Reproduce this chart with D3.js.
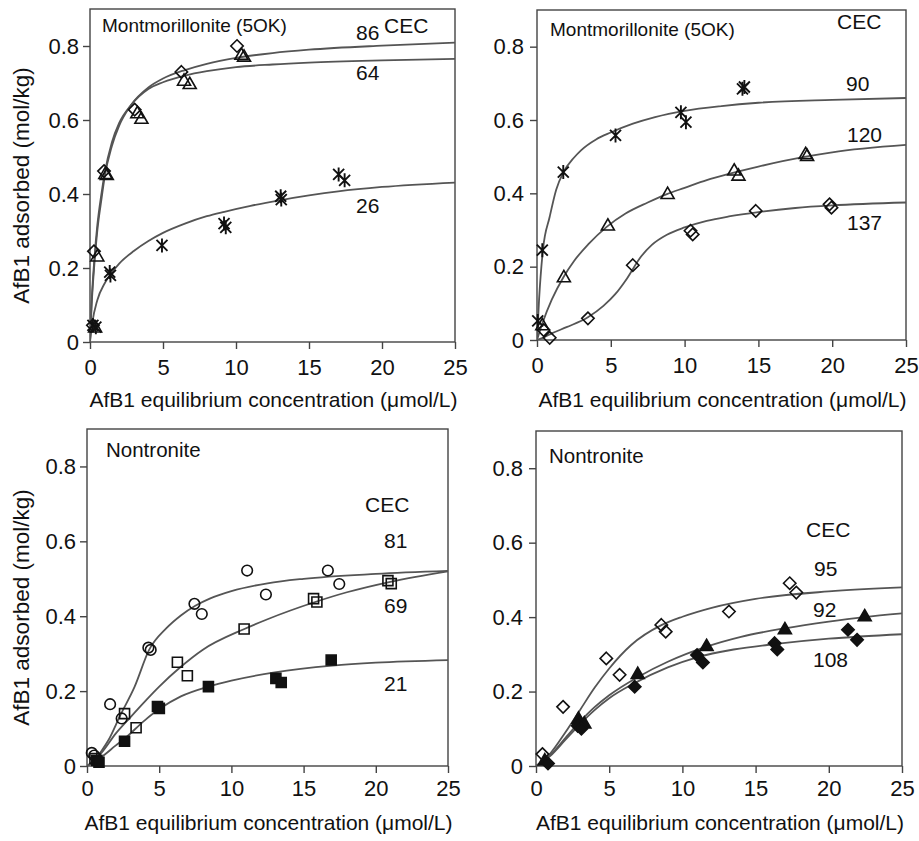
<!DOCTYPE html>
<html>
<head>
<meta charset="utf-8">
<script src="https://cdn.jsdelivr.net/npm/d3@7"></script>
<style>
  body { margin: 0; background: #fff; }
  svg { display: block; font-family: "Liberation Sans", Arial, sans-serif; }
</style>
</head>
<body>
<svg id="chart" width="919" height="841"></svg>
<script>
const xTicks = [0, 5, 10, 15, 20, 25];
const yTicks = [0, 0.2, 0.4, 0.6, 0.8];
const xTitle = "AfB1 equilibrium concentration (\u03bcmol/L)";
const yTitle = "AfB1 adsorbed (mol/kg)";
const panelTitles = ["Montmorillonite (5OK)", "Montmorillonite (5OK)", "Nontronite", "Nontronite"];
const cecLabel = "CEC";

// top left: montmorillonite, CEC 86 / 64 / 26
const p1Cec86Pts = [[0.2, 0.045], [0.27, 0.245], [0.96, 0.462], [3.06, 0.628], [6.26, 0.73], [10.07, 0.80]];
const p1Cec64Pts = [[0.35, 0.04], [0.5, 0.232], [1.05, 0.455], [1.15, 0.452], [3.24, 0.619], [3.52, 0.604],
  [6.44, 0.707], [6.83, 0.698], [10.37, 0.777], [10.55, 0.772]];
const p1Cec26Pts = [[0.2, 0.045], [0.4, 0.04], [1.35, 0.189], [1.4, 0.18], [4.93, 0.261], [9.18, 0.32], [9.3, 0.31],
  [13.06, 0.394], [13.1, 0.385], [17.03, 0.453], [17.44, 0.437]];
const p1Cec86Fit = [[0, 0], [0.1, 0.09], [0.3, 0.21], [0.5, 0.3], [0.8, 0.39], [1, 0.445], [1.5, 0.53], [2, 0.585],
  [2.8, 0.64], [4, 0.688], [5, 0.712], [6.5, 0.735], [8, 0.752], [10, 0.768], [12.5, 0.781], [15, 0.79], [20, 0.801], [25, 0.809]];
const p1Cec64Fit = [[0, 0], [0.1, 0.1], [0.3, 0.225], [0.5, 0.315], [0.8, 0.405], [1, 0.455], [1.5, 0.54], [2, 0.592],
  [2.8, 0.64], [4, 0.684], [5, 0.702], [6.5, 0.72], [8, 0.732], [10, 0.743], [12.5, 0.75], [15, 0.755], [20, 0.761], [25, 0.765]];
const p1Cec26Fit = [[0, 0], [0.15, 0.05], [0.5, 0.113], [1, 0.158], [1.35, 0.18], [2, 0.212], [3, 0.246], [4, 0.273],
  [5, 0.295], [6.5, 0.32], [8, 0.34], [9.2, 0.352], [11, 0.368], [13, 0.383], [15, 0.396], [17, 0.407], [20, 0.419], [25, 0.431]];

// top right: montmorillonite, CEC 90 / 120 / 137
const p2Cec90Pts = [[0.05, 0.052], [0.36, 0.245], [1.78, 0.458], [5.32, 0.558], [9.75, 0.621], [10.09, 0.594],
  [13.92, 0.685], [14.05, 0.69]];
const p2Cec120Pts = [[0.36, 0.041], [1.82, 0.172], [4.8, 0.313], [8.85, 0.399], [13.36, 0.463], [13.65, 0.449],
  [18.2, 0.508], [18.3, 0.503]];
const p2Cec137Pts = [[0.45, 0.027], [0.86, 0.006], [3.45, 0.059], [6.49, 0.204], [10.4, 0.298], [10.55, 0.288],
  [14.82, 0.352], [19.82, 0.37], [19.95, 0.361]];
const p2Cec90Fit = [[0, 0], [0.14, 0.11], [0.4, 0.245], [0.86, 0.336], [1.3, 0.41], [1.8, 0.458], [2.5, 0.497], [3, 0.518],
  [4, 0.547], [5, 0.566], [6.5, 0.59], [8, 0.608], [10, 0.625], [12.5, 0.638], [15, 0.647], [20, 0.655], [25, 0.66]];
const p2Cec120Fit = [[0, 0], [0.36, 0.045], [1, 0.11], [1.8, 0.172], [2.5, 0.215], [3.5, 0.262], [4.7, 0.308], [6, 0.345],
  [7.5, 0.375], [8.8, 0.398], [10, 0.415], [11.5, 0.436], [13, 0.453], [15, 0.473], [18.2, 0.5], [20, 0.512], [25, 0.532]];
const p2Cec137Fit = [[0, 0], [0.5, 0.008], [1, 0.018], [2, 0.035], [3.45, 0.062], [4.5, 0.093], [5.3, 0.125], [6.1, 0.168],
  [7, 0.225], [7.8, 0.26], [8.8, 0.287], [10, 0.307], [11.5, 0.325], [13, 0.337], [15, 0.349], [17.5, 0.36], [20, 0.367], [25, 0.375]];

// bottom left: nontronite, CEC 81 / 69 / 21
const p3Cec81Pts = [[0.33, 0.035], [0.5, 0.028], [1.6, 0.165], [2.4, 0.127], [4.25, 0.316], [4.41, 0.31], [7.44, 0.433],
  [7.95, 0.406], [11.09, 0.522], [12.39, 0.458], [16.68, 0.522], [17.47, 0.486]];
const p3Cec69Pts = [[0.55, 0.02], [2.6, 0.14], [3.4, 0.102], [6.26, 0.277], [6.95, 0.241], [10.88, 0.366], [15.69, 0.447],
  [15.92, 0.438], [20.84, 0.495], [21.07, 0.487]];
const p3Cec21Pts = [[0.67, 0.015], [0.83, 0.01], [2.6, 0.066], [4.88, 0.159], [5.01, 0.154], [8.41, 0.212], [13.08, 0.234],
  [13.45, 0.223], [16.91, 0.283]];
const p3Cec81Fit = [[0, 0], [0.5, 0.015], [1, 0.04], [1.5, 0.07], [2.3, 0.135], [3.3, 0.212], [4.3, 0.31], [5.5, 0.368],
  [6.5, 0.402], [7.5, 0.428], [8.5, 0.447], [10, 0.467], [12.5, 0.488], [15, 0.5], [20, 0.513], [25, 0.521]];
const p3Cec69Fit = [[0, 0], [1, 0.035], [2, 0.087], [3, 0.13], [4, 0.172], [5, 0.212], [6.5, 0.265], [8, 0.31], [10.9, 0.366],
  [12.5, 0.392], [15.8, 0.438], [18, 0.464], [21, 0.492], [25, 0.52]];
const p3Cec21Fit = [[0, 0], [1, 0.024], [2, 0.055], [2.6, 0.073], [4, 0.122], [5, 0.152], [6.5, 0.186], [8.4, 0.212],
  [10, 0.228], [13, 0.25], [17, 0.268], [20, 0.276], [25, 0.283]];

// bottom right: nontronite, CEC 95 / 92 / 108
const p4Cec95Pts = [[0.44, 0.032], [1.85, 0.159], [4.8, 0.289], [5.71, 0.245], [8.56, 0.379], [8.86, 0.361], [13.18, 0.415],
  [17.33, 0.491], [17.78, 0.466]];
const p4Cec92Pts = [[0.6, 0.016], [2.9, 0.128], [3.3, 0.115], [6.95, 0.248], [11.65, 0.323], [17.0, 0.368], [22.45, 0.403]];
const p4Cec108Pts = [[0.82, 0.007], [2.85, 0.108], [3.1, 0.1], [6.74, 0.213], [11.0, 0.298], [11.4, 0.278], [16.3, 0.33],
  [16.48, 0.313], [21.31, 0.366], [21.93, 0.339]];
const p4Cec95Fit = [[0, 0], [1, 0.035], [2, 0.09], [3, 0.15], [4, 0.21], [5, 0.262], [6.5, 0.325], [8.6, 0.379], [10, 0.401],
  [12, 0.425], [15, 0.449], [20, 0.469], [25, 0.48]];
const p4Cec92Fit = [[0, 0], [1, 0.03], [2, 0.075], [3, 0.119], [4, 0.158], [5, 0.19], [7, 0.24], [9, 0.28], [11.6, 0.32],
  [14, 0.347], [17, 0.37], [20, 0.388], [22.4, 0.4], [25, 0.41]];
const p4Cec108Fit = [[0, 0], [1, 0.028], [2, 0.07], [3, 0.112], [4, 0.15], [5, 0.182], [6.7, 0.222], [9, 0.265], [11, 0.292],
  [13.5, 0.313], [16.4, 0.328], [20, 0.342], [25, 0.354]];

const ink = "#111";
const lineGrey = "#555";

// marker outlines, centred on 0,0
function markerPath(kind) {
  switch (kind) {
    case "diamond": return "M0,-6.2L6.2,0L0,6.2L-6.2,0Z";
    case "triangle": return "M0,-6.5L6.5,4.8L-6.5,4.8Z";
    case "square": return "M-5,-5H5V5H-5Z";
    case "circle": return "M5.3,0A5.3,5.3 0 1 1 -5.3,0A5.3,5.3 0 1 1 5.3,0Z";
    case "asterisk": return "M0,-7V7M-5.5,-5.5L5.5,5.5M5.5,-5.5L-5.5,5.5";
  }
}

const panels = [
  {
    frame: { left: 90, right: 455, top: 9, bottom: 342 }, yAxisTitle: true, titleY: 406.5, xPad: 10, yPad: 4,
    title: panelTitles[0], titleAt: [12, 23], titleSize: 19,
    series: [
      { pts: p1Cec86Pts, fit: p1Cec86Fit, marker: "diamond", filled: false, label: "86", at: [266, 31] },
      { pts: p1Cec64Pts, fit: p1Cec64Fit, marker: "triangle", filled: false, label: "64", at: [266, 71] },
      { pts: p1Cec26Pts, fit: p1Cec26Fit, marker: "asterisk", filled: false, label: "26", at: [266, 204] }
    ],
    cecAt: [294, 24]
  },
  {
    frame: { left: 537, right: 906, top: 10, bottom: 340 }, yAxisTitle: false, titleY: 406.5, xPad: 10, yPad: 6,
    title: panelTitles[1], titleAt: [13, 26], titleSize: 19,
    series: [
      { pts: p2Cec90Pts, fit: p2Cec90Fit, marker: "asterisk", filled: false, label: "90", at: [309, 81] },
      { pts: p2Cec120Pts, fit: p2Cec120Fit, marker: "triangle", filled: false, label: "120", at: [310, 132] },
      { pts: p2Cec137Pts, fit: p2Cec137Fit, marker: "diamond", filled: false, label: "137", at: [310, 220] }
    ],
    cecAt: [300, 19]
  },
  {
    frame: { left: 87, right: 448, top: 429, bottom: 766 }, yAxisTitle: true, titleY: 830, xPad: 7, yPad: 4,
    title: panelTitles[2], titleAt: [19, 28], titleSize: 20.5,
    series: [
      { pts: p3Cec81Pts, fit: p3Cec81Fit, marker: "circle", filled: false, label: "81", at: [297, 119] },
      { pts: p3Cec69Pts, fit: p3Cec69Fit, marker: "square", filled: false, label: "69", at: [297, 184] },
      { pts: p3Cec21Pts, fit: p3Cec21Fit, marker: "square", filled: true, label: "21", at: [297, 262] }
    ],
    cecAt: [278, 83]
  },
  {
    frame: { left: 536, right: 902, top: 431, bottom: 766 }, yAxisTitle: false, titleY: 830, xPad: 7, yPad: 6,
    title: panelTitles[3], titleAt: [13, 32], titleSize: 20.5,
    series: [
      { pts: p4Cec95Pts, fit: p4Cec95Fit, marker: "diamond", filled: false, label: "95", at: [278, 145] },
      { pts: p4Cec92Pts, fit: p4Cec92Fit, marker: "triangle", filled: true, label: "92", at: [277, 186] },
      { pts: p4Cec108Pts, fit: p4Cec108Fit, marker: "diamond", filled: true, label: "108", at: [277, 236] }
    ],
    cecAt: [270, 106]
  }
];

const svg = d3.select("#chart");

panels.forEach((p, i) => {
  const f = p.frame;
  const x = d3.scaleLinear().domain([0, 25]).range([f.left, f.right]);
  const y = d3.scaleLinear().domain([0, 0.9]).range([f.bottom, f.top]);
  const g = svg.append("g");

  const clipId = `clip${i}`;
  g.append("clipPath").attr("id", clipId)
    .append("rect")
    .attr("x", f.left).attr("y", f.top)
    .attr("width", f.right - f.left).attr("height", f.bottom - f.top);

  // axes, ticks outward
  const xAxis = g.append("g")
    .attr("transform", `translate(0,${f.bottom})`)
    .call(d3.axisBottom(x).tickValues(xTicks).tickSize(7).tickPadding(p.xPad).tickFormat(d3.format("d")));
  const yAxis = g.append("g")
    .attr("transform", `translate(${f.left},0)`)
    .call(d3.axisLeft(y).tickValues(yTicks).tickSize(7).tickPadding(p.yPad)
      .tickFormat(d => d === 0 ? "0" : d3.format(".1f")(d)));

  [xAxis, yAxis].forEach(a => {
    a.select(".domain").remove();
    a.selectAll(".tick line").attr("stroke", "#444").attr("stroke-width", 1.4);
    a.selectAll(".tick text").attr("fill", ink).attr("font-size", 22)
      .attr("font-family", "Liberation Sans, Arial, sans-serif");
  });

  // frame box
  g.append("rect")
    .attr("x", f.left).attr("y", f.top)
    .attr("width", f.right - f.left).attr("height", f.bottom - f.top)
    .attr("fill", "none").attr("stroke", "#444").attr("stroke-width", 1.4);

  const line = d3.line().x(d => x(d[0])).y(d => y(d[1])).curve(d3.curveMonotoneX);

  p.series.forEach(s => {
    g.append("path")
      .datum(s.fit)
      .attr("clip-path", `url(#${clipId})`)
      .attr("d", line)
      .attr("fill", "none")
      .attr("stroke", lineGrey)
      .attr("stroke-width", 1.8);
  });

  p.series.forEach(s => {
    g.append("g").selectAll("path")
      .data(s.pts)
      .join("path")
      .attr("transform", d => `translate(${x(d[0])},${y(d[1])})`)
      .attr("d", markerPath(s.marker))
      .attr("fill", s.filled ? ink : "none")
      .attr("stroke", ink)
      .attr("stroke-width", s.marker === "asterisk" ? 1.9 : 1.6)
      .attr("stroke-linejoin", "miter");
  });

  // annotations
  g.append("text")
    .attr("x", f.left + p.titleAt[0]).attr("y", f.top + p.titleAt[1])
    .attr("font-size", p.titleSize).attr("fill", ink)
    .text(p.title);
  g.append("text")
    .attr("x", f.left + p.cecAt[0]).attr("y", f.top + p.cecAt[1])
    .attr("font-size", 21).attr("fill", ink)
    .text(cecLabel);
  p.series.forEach(s => {
    g.append("text")
      .attr("x", f.left + s.at[0]).attr("y", f.top + s.at[1])
      .attr("font-size", 21).attr("fill", ink)
      .text(s.label);
  });

  // axis titles
  g.append("text")
    .attr("x", (f.left + f.right) / 2 + 1).attr("y", p.titleY)
    .attr("text-anchor", "middle").attr("font-size", 21).attr("fill", ink)
    .text(xTitle);
  if (p.yAxisTitle) {
    g.append("text")
      .attr("transform", `translate(29,${(f.top + f.bottom) / 2 + 10}) rotate(-90)`)
      .attr("text-anchor", "middle").attr("font-size", 22.5).attr("fill", ink)
      .text(yTitle);
  }
});
</script>
</body>
</html>
